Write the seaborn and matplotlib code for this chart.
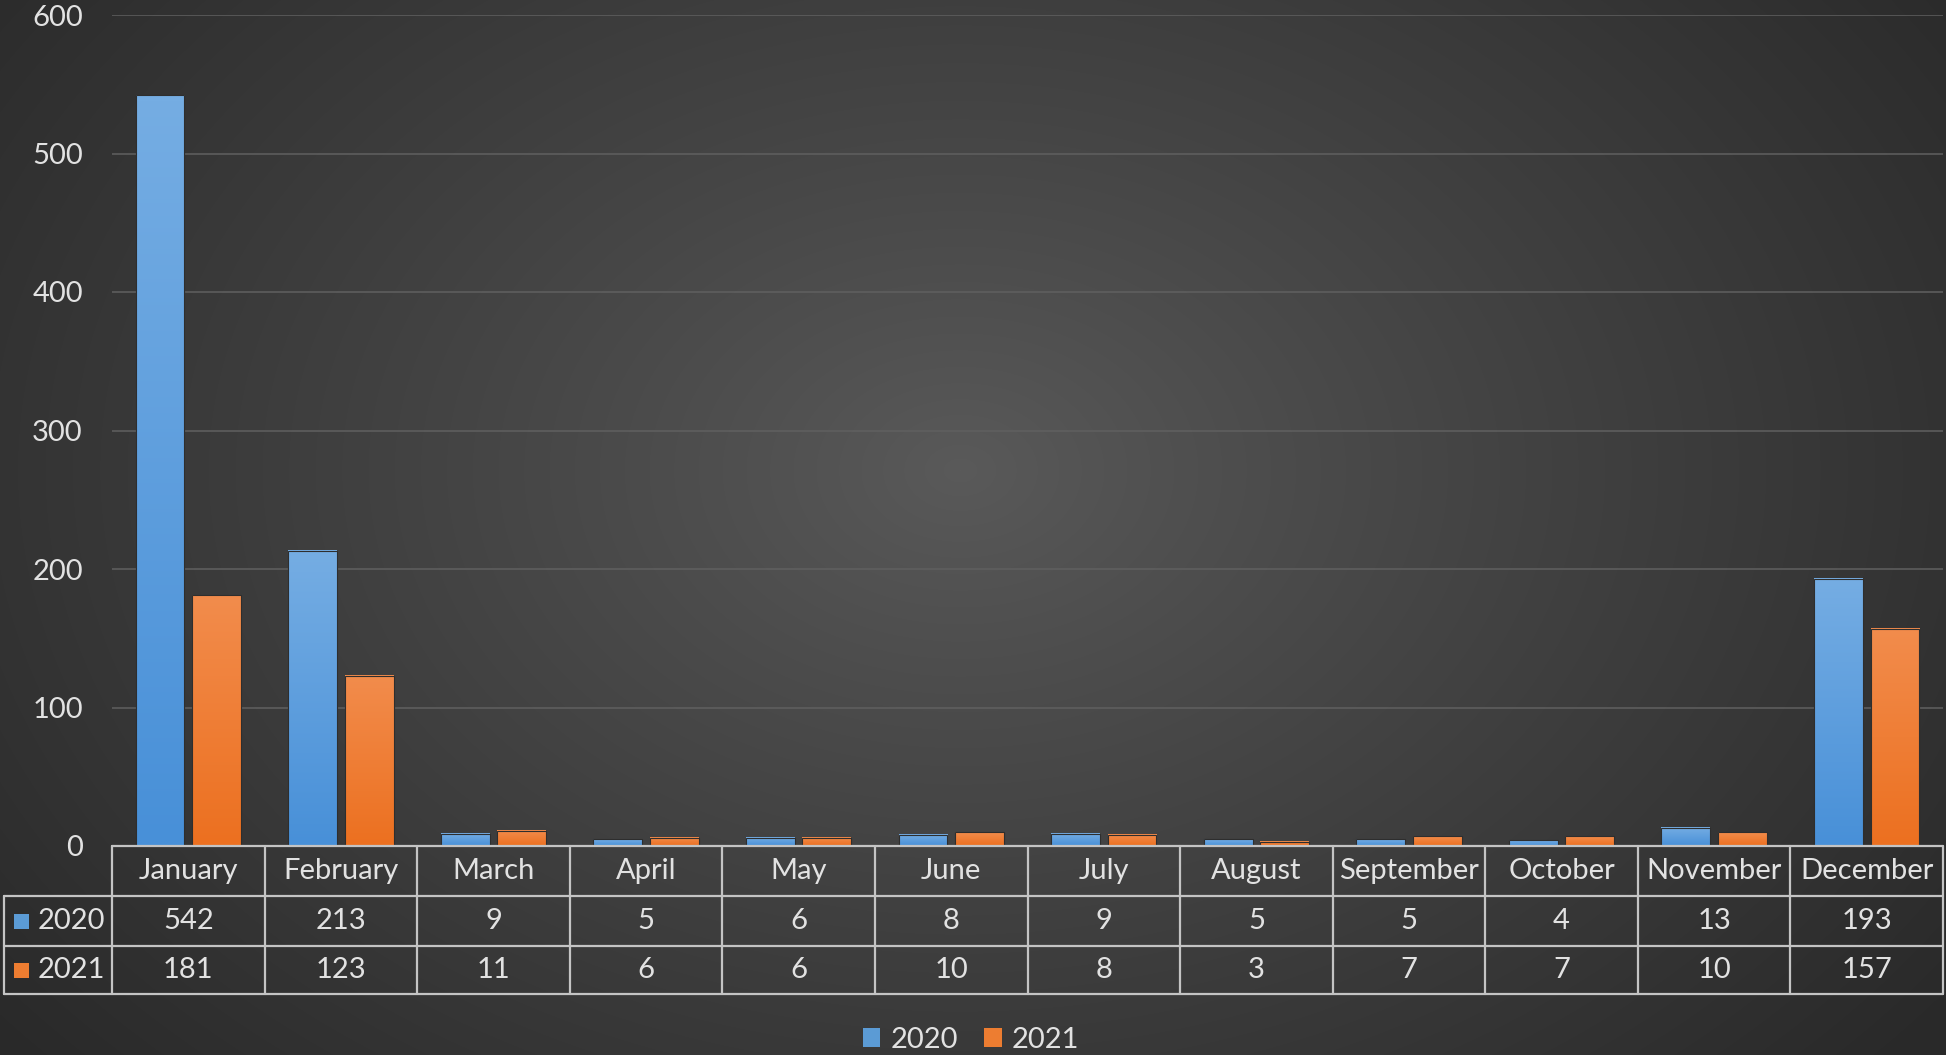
import numpy as np
import pandas as pd
import matplotlib
matplotlib.use("Agg")
import matplotlib.pyplot as plt
from matplotlib.patches import Rectangle
from matplotlib.lines import Line2D
from matplotlib.transforms import blended_transform_factory
import matplotlib.colors as mcolors
import seaborn as sns

# ---------------- data ----------------
months = ["January", "February", "March", "April", "May", "June", "July",
          "August", "September", "October", "November", "December"]
series_names = ["2020", "2021"]
values_2020 = [542, 213, 9, 5, 6, 8, 9, 5, 5, 4, 13, 193]
values_2021 = [181, 123, 11, 6, 6, 10, 8, 3, 7, 7, 10, 157]
y_ticks = [0, 100, 200, 300, 400, 500, 600]

# ---------------- style ----------------
sns.set_theme(style="dark")
plt.rcParams["font.family"] = ["Lato", "DejaVu Sans"]

W, H = 1946, 1055
DPI = 100
TXT = "#e2e2e2"
LINE = "#c4c4c4"
FS = 21
palette = {"2020": "#5b9bd5", "2021": "#ed7d31"}
grad_cols = {"2020": ("#75ade3", "#4890d8"), "2021": ("#f28c4c", "#ec7020")}

df = pd.DataFrame({
    "month": months * 2,
    "year": [series_names[0]] * len(months) + [series_names[1]] * len(months),
    "value": values_2020 + values_2021,
})

fig = plt.figure(figsize=(W / DPI, H / DPI), dpi=DPI)

# radial gradient background
bg = fig.add_axes([0, 0, 1, 1], zorder=-10)
yy, xx = np.mgrid[0:H, 0:W]
r = np.sqrt(((xx - 960) / 1250.0) ** 2 + ((yy - 470) / 900.0) ** 2)
r = np.clip(r, 0, 1)
lev = 0x5a - (0x5a - 0x29) * r ** 0.9
img = np.dstack([lev, lev, lev]) / 255.0
bg.imshow(img, extent=[0, 1, 0, 1], aspect="auto", origin="upper")
bg.set_axis_off()

ax_left = 112 / W
ax_right = 1943 / W
ax_bottom = 1 - 846 / H
ax_top = 1 - 15 / H
ax = fig.add_axes([ax_left, ax_bottom, ax_right - ax_left, ax_top - ax_bottom])
ax.set_facecolor("none")

sns.barplot(data=df, x="month", y="value", hue="year", palette=palette,
            width=0.74, gap=0.135, ax=ax, legend=False, saturation=1,
            edgecolor="#2e2e2e", linewidth=0.8, zorder=3)

ax.set_xlim(-0.5, len(months) - 0.5)
ax.set_ylim(y_ticks[0], y_ticks[-1])

# gradient fill for each bar
n = len(months)
for i, bar in enumerate(ax.patches[: 2 * n]):
    key = series_names[i // n]
    top, bot = grad_cols[key]
    c0 = np.array(mcolors.to_rgb(top))
    c1 = np.array(mcolors.to_rgb(bot))
    t = np.linspace(0, 1, 64)[:, None]
    g = (c0 * (1 - t) + c1 * t)[:, None, :]
    x0, y0 = bar.get_x(), bar.get_y()
    w, h = bar.get_width(), bar.get_height()
    ax.imshow(g, extent=[x0, x0 + w, y0, y0 + h], aspect="auto",
              origin="upper", zorder=2.9, interpolation="bilinear")
    bar.set_facecolor("none")

ax.set_xlim(-0.5, len(months) - 0.5)
ax.set_ylim(y_ticks[0], y_ticks[-1])
ax.set_aspect("auto")

# axes styling
ax.set_yticks(y_ticks)
ax.set_yticklabels([str(v) for v in y_ticks])
ax.tick_params(axis="y", length=0, pad=21, labelsize=FS, labelcolor=TXT)
ax.set_xticks([])
ax.set_xlabel("")
ax.set_ylabel("")
for s in ax.spines.values():
    s.set_visible(False)
ax.grid(False)
for v in y_ticks[1:]:
    ax.axhline(v, color="#606060", lw=1.1, zorder=1)

# ---------------- data table ----------------
ax_h_px = 846 - 15
def ya(px):
    return -(px - 846) / ax_h_px

tr = blended_transform_factory(ax.transData, ax.transAxes)
y_head_top = ya(846)
y_row1_top = ya(896)
y_row2_top = ya(946)
y_bottom = ya(994)
x_outer = (4 - 112) / 1831.0

lw = 1.6
ax.add_line(Line2D([0, 1], [y_head_top, y_head_top], transform=ax.transAxes,
                   color=LINE, lw=lw, clip_on=False, zorder=5))
for yv in (y_row1_top, y_row2_top, y_bottom):
    ax.add_line(Line2D([x_outer, 1], [yv, yv], transform=ax.transAxes,
                       color=LINE, lw=lw, clip_on=False, zorder=5))
for k in range(n + 1):
    xv = -0.5 + k
    ax.add_line(Line2D([xv, xv], [y_head_top, y_bottom], transform=tr,
                       color=LINE, lw=lw, clip_on=False, zorder=5))
ax.add_line(Line2D([x_outer, x_outer], [y_row1_top, y_bottom],
                   transform=ax.transAxes, color=LINE, lw=lw, clip_on=False))

for i, m in enumerate(months):
    ax.text(i, (y_head_top + y_row1_top) / 2, m, transform=tr, ha="center",
            va="center", fontsize=FS, color=TXT, clip_on=False)
    ax.text(i, (y_row1_top + y_row2_top) / 2, str(values_2020[i]),
            transform=tr, ha="center", va="center", fontsize=FS, color=TXT,
            clip_on=False)
    ax.text(i, (y_row2_top + y_bottom) / 2, str(values_2021[i]),
            transform=tr, ha="center", va="center", fontsize=FS, color=TXT,
            clip_on=False)

for name, (yt, yb) in zip(series_names, [(y_row1_top, y_row2_top),
                                          (y_row2_top, y_bottom)]):
    yc = (yt + yb) / 2
    sq = 15 / 1831.0
    sq_h = 15 / ax_h_px
    ax.add_patch(Rectangle(((14 - 112) / 1831.0, yc - sq_h / 2), sq, sq_h,
                           transform=ax.transAxes, facecolor=palette[name],
                           edgecolor="none", clip_on=False))
    ax.text((38 - 112) / 1831.0, yc, name, transform=ax.transAxes,
            ha="left", va="center", fontsize=FS, color=TXT, clip_on=False)

# ---------------- legend ----------------
handles = [Rectangle((0, 0), 1, 1, facecolor=palette[s], edgecolor="none")
           for s in series_names]
leg = fig.legend(handles, series_names, loc="center",
                 bbox_to_anchor=(971 / W, 1 - 1040 / H), ncol=2, frameon=False,
                 fontsize=FS, handlelength=0.6, handleheight=0.6,
                 handletextpad=0.35, columnspacing=0.9, labelcolor=TXT,
                 borderaxespad=0, borderpad=0)

fig.savefig("out.png", dpi=DPI)
